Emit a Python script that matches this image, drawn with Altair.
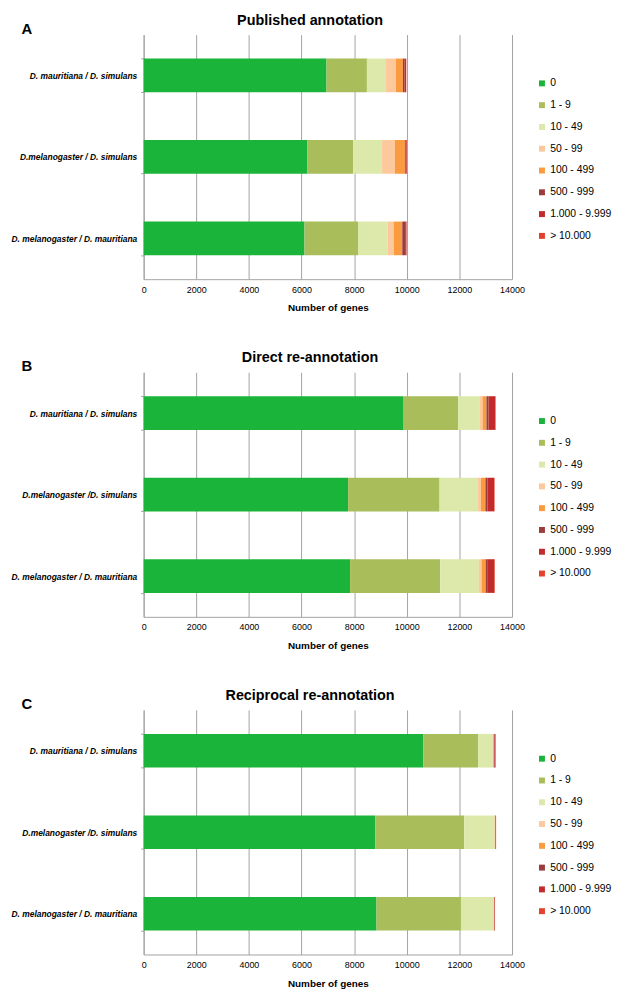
import altair as alt
import pandas as pd

pairs_a = ["D. mauritiana / D. simulans", "D.melanogaster / D. simulans", "D. melanogaster / D. mauritiana"]
pairs_bc = ["D. mauritiana / D. simulans", "D.melanogaster /D. simulans", "D. melanogaster / D. mauritiana"]

classes = ["0", "1 - 9", "10 - 49", "50 - 99", "100 - 499", "500 - 999", "1.000 - 9.999", "> 10.000"]
colors = ["#1bb43b", "#a9bd5b", "#dde9ab", "#fdc99c", "#f99b3e", "#9a3b3c", "#c22a2c", "#e2412b"]

# counts per class, one list per pair (order of pairs as above)
published = [
    [6950, 1535, 727, 377, 264, 60, 60, 10],
    [6226, 1744, 1092, 490, 377, 30, 40, 5],
    [6113, 2034, 1130, 226, 327, 110, 50, 5],
]
direct = [
    [9880, 2070, 830, 100, 150, 80, 250, 20],
    [7770, 3477, 1463, 110, 170, 80, 250, 20],
    [7845, 3428, 1467, 100, 160, 80, 250, 20],
]
reciprocal = [
    [10633, 2077, 560, 20, 20, 20, 40, 10],
    [8800, 3380, 1160, 10, 10, 10, 20, 5],
    [8850, 3210, 1240, 10, 10, 10, 20, 5],
]

FONT = "Liberation Sans"
PW = 372
PH = 247


def panel(title, letter, pairs, counts):
    rows = []
    for p, vals in zip(pairs, counts):
        for i, (c, v) in enumerate(zip(classes, vals)):
            rows.append({"pair": p, "cls": c, "n": v, "ord": i})
    df = pd.DataFrame(rows)
    bars = alt.Chart(df).mark_bar().encode(
        x=alt.X("n:Q", stack="zero",
                scale=alt.Scale(domain=[0, 14000], nice=False),
                axis=alt.Axis(values=list(range(0, 14001, 2000)), grid=True,
                              gridColor="#a3a3a3", gridWidth=1, ticks=False, labelFlush=False,
                              domainColor="#a3a3a3", labelFont=FONT, labelFontSize=9,
                              labelColor="black", labelPadding=6, format="d",
                              title="Number of genes", titleFont=FONT, titleFontSize=10,
                              titleFontWeight="bold", titleColor="black", titlePadding=9)),
        y=alt.Y("pair:N", sort=pairs,
                scale=alt.Scale(paddingInner=0.587, paddingOuter=0.294),
                axis=alt.Axis(title=None, tickBand="extent", tickSize=3, tickColor="#a3a3a3",
                              domainColor="#a3a3a3", labelFont=FONT, labelFontSize=8.5,
                              labelFontStyle="italic", labelFontWeight="bold", labelColor="black",
                              labelPadding=4, labelLimit=300)),
        color=alt.Color("cls:N", sort=classes,
                        scale=alt.Scale(domain=classes, range=colors),
                        legend=alt.Legend(title=None, orient="none", legendX=PW + 25, legendY=44,
                                          symbolType="square", symbolSize=36, symbolStrokeWidth=0,
                                          labelFont=FONT, labelFontSize=10.5, labelColor="black",
                                          labelOffset=3, rowPadding=11)),
        order=alt.Order("ord:Q"),
    )
    lt = alt.Chart(pd.DataFrame({"t": [letter]})).mark_text(
        font=FONT, fontSize=15, fontWeight="bold", color="black", align="center", baseline="middle"
    ).encode(text="t:N", x=alt.value(-118), y=alt.value(-6))
    tt = alt.Chart(pd.DataFrame({"t": [title]})).mark_text(
        font=FONT, fontSize=14.5, fontWeight="bold", color="black", align="center", baseline="middle"
    ).encode(text="t:N", x=alt.value(PW / 2 - 18), y=alt.value(-14))
    return alt.layer(bars, lt, tt).properties(width=PW, height=PH)


chart = alt.vconcat(
    panel("Published annotation", "A", pairs_a, published),
    panel("Direct re-annotation", "B", pairs_bc, direct),
    panel("Reciprocal re-annotation", "C", pairs_bc, reciprocal),
    spacing=38,
).resolve_legend(color="independent").properties(
    padding={"top": 0, "left": 2, "right": 2, "bottom": 0}
).configure_view(stroke=None)

chart.save("out.html", embed_options={"renderer": "svg", "actions": False})
